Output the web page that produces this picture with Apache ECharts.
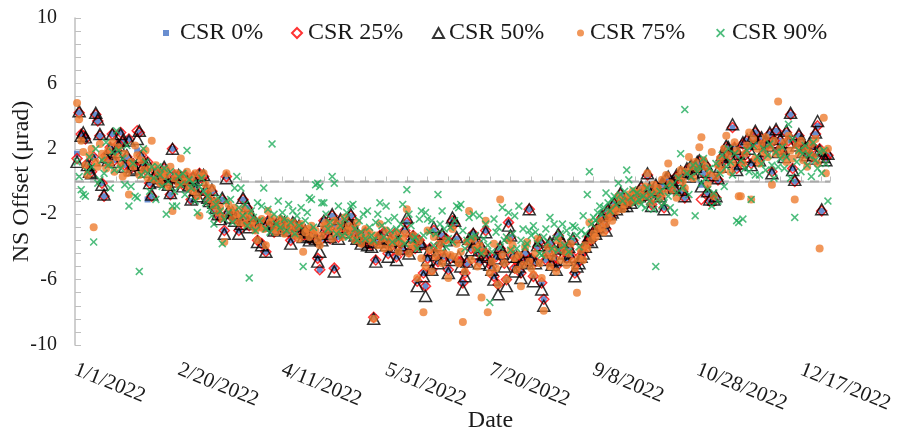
<!DOCTYPE html>
<html><head><meta charset="utf-8">
<script src="https://cdn.jsdelivr.net/npm/echarts@6/dist/echarts.min.js"></script>
<style>html,body{margin:0;padding:0;background:#fff}#c{width:899px;height:432px}</style>
</head><body><div id="c"></div>
<script>
// x value = day number counted from 1/1/2022 (day 0); first sample is day 1
const startDay = 1;
const seriesNames = ['CSR 0%', 'CSR 25%', 'CSR 50%', 'CSR 75%', 'CSR 90%'];
const yMin = -10, yMax = 10, yStep = 4;
const xMin = 0, xMax = 364, xStep = 50;
const refLevel = 0; // dashed reference line

const csr0 = [
1.7,4.2,2.9,2.8,2.6,1.1,0.7,0.6,1.5,4.1,
3.7,2.8,-0.1,-0.9,1.6,1.2,2.1,2.9,1.3,1.9,
2.3,3.0,2.4,1.0,1.5,2.6,0.8,1.1,0.9,1.9,
3.0,1.6,1.1,0.7,-1.1,-0.1,-0.9,0.2,0.6,0.1,
0.3,0.5,0.8,0.2,-0.1,-0.8,2.0,0.4,0.1,0.3,
0.3,-0.2,0.4,0.0,-0.3,-1.2,0.3,-0.4,-0.8,0.5,
0.2,0.3,-0.6,-1.1,-1.3,-0.6,-1.3,-1.7,-2.1,-2.2,
-1.1,-3.0,0.3,-1.9,-2.1,-2.0,-2.3,-2.1,-3.0,-2.5,
-1.1,-2.3,-1.6,-2.7,-2.2,-2.4,-2.7,-3.6,-2.5,-3.8,
-2.7,-4.3,-2.4,-2.8,-2.5,-3.1,-2.7,-2.8,-2.5,-2.6,
-2.6,-2.7,-3.1,-3.6,-2.6,-2.7,-2.8,-2.8,-3.2,-3.3,
-3.1,-3.2,-3.5,-3.2,-3.3,-3.6,-4.7,-5.4,-3.5,-2.4,
-2.9,-3.1,-3.5,-2.1,-5.3,-2.7,-3.4,-2.4,-2.8,-2.9,
-3.0,-2.6,-2.1,-2.8,-3.2,-3.6,-3.3,-3.7,-3.7,-3.1,
-3.8,-3.8,-3.9,-8.3,-4.8,-3.6,-3.3,-3.8,-3.1,-3.8,
-4.4,-3.7,-3.9,-3.3,-4.6,-3.7,-3.8,-4.2,-3.0,-2.5,
-4.3,-3.5,-3.3,-4.1,-6.1,-3.6,-3.9,-5.6,-6.4,-4.7,
-4.1,-5.4,-3.0,-4.4,-4.9,-3.8,-3.3,-4.6,-3.5,-5.4,
-4.7,-2.4,-2.6,-3.5,-4.9,-4.9,-6.2,-5.6,-5.0,-3.6,
-4.1,-3.2,-3.6,-4.3,-4.9,-4.1,-4.4,-3.0,-4.5,-4.9,
-5.2,-5.8,-4.6,-6.3,-4.1,-4.4,-5.0,-6.0,-2.5,-3.4,
-4.5,-5.3,-4.7,-5.0,-5.6,-4.8,-4.4,-4.9,-1.7,-4.7,
-5.8,-4.9,-4.0,-3.7,-6.2,-7.2,-4.8,-4.3,-3.8,-5.0,
-4.7,-5.2,-3.3,-4.2,-3.8,-4.3,-4.7,-4.1,-4.5,-3.6,
-5.6,-5.0,-4.9,-4.5,-4.3,-3.9,-3.7,-3.4,-3.6,-3.1,
-3.1,-2.9,-2.7,-2.2,-2.4,-2.9,-1.8,-2.1,-2.0,-1.4,
-1.6,-1.5,-0.8,-1.4,-1.3,-1.4,-1.2,-1.2,-1.0,-1.1,
-0.9,-0.8,-0.4,-0.7,-0.9,0.4,-0.5,-1.4,-0.7,-0.3,
-0.6,-1.0,-0.2,-1.6,0.1,0.2,-0.4,-0.1,-0.5,0.3,
0.2,0.5,-0.6,-1.0,0.7,0.4,0.9,0.6,0.8,1.1,
1.2,-0.2,0.5,1.0,-0.7,-1.2,0.3,-1.2,-1.0,0.1,
1.0,1.5,1.3,2.1,2.0,1.6,3.3,2.1,0.8,1.6,
1.2,2.3,1.6,2.5,2.1,1.1,2.7,3.0,2.4,1.4,
2.6,2.0,2.4,2.3,2.9,0.6,2.5,3.1,1.9,2.5,
2.1,1.6,3.0,2.5,4.1,0.8,0.0,2.3,2.8,2.4,
1.9,2.0,1.7,2.2,1.5,2.1,2.9,3.4,2.0,-1.8,
1.6,1.4,1.6];

const csr25 = [
1.4,4.2,2.9,2.8,2.6,1.1,0.7,0.6,1.5,4.1,
3.7,2.8,-0.1,-0.9,1.6,1.2,2.1,2.9,1.3,1.9,
2.3,3.0,2.4,1.0,1.5,2.6,0.8,1.1,0.9,3.1,
3.0,1.6,1.1,0.7,1.2,-0.1,-0.9,0.2,0.6,0.1,
0.3,0.5,0.8,0.2,-0.1,-0.8,2.0,0.4,0.1,0.3,
0.3,-0.2,0.4,0.0,-0.3,-1.1,0.3,-0.4,-0.8,0.5,
0.2,0.3,-0.6,-1.1,-1.3,-0.6,-1.3,-1.7,-2.1,-2.2,
-1.1,-3.0,0.3,-1.9,-2.1,-2.0,-2.3,-2.1,-3.0,-2.5,
-1.1,-2.3,-1.6,-2.7,-2.2,-2.4,-2.7,-3.6,-2.5,-3.8,
-2.7,-4.3,-2.4,-2.8,-2.5,-3.1,-2.7,-2.8,-2.5,-2.6,
-2.6,-2.7,-3.1,-3.6,-2.6,-2.7,-2.8,-2.8,-3.2,-3.3,
-3.1,-3.2,-3.5,-3.2,-3.3,-3.6,-4.7,-5.4,-3.5,-2.4,
-2.9,-3.1,-3.5,-2.1,-5.3,-2.7,-3.4,-2.4,-2.8,-2.9,
-3.0,-2.6,-2.1,-2.8,-3.2,-3.6,-3.3,-3.7,-3.7,-3.1,
-3.8,-3.8,-3.9,-8.3,-4.8,-3.6,-3.3,-3.8,-3.1,-3.8,
-4.4,-3.7,-3.9,-3.2,-4.6,-3.7,-3.8,-4.2,-3.0,-2.5,
-4.3,-3.5,-3.3,-4.1,-6.1,-3.6,-3.9,-5.6,-6.4,-4.7,
-4.1,-5.4,-3.0,-4.4,-4.9,-3.8,-3.3,-4.6,-3.5,-5.4,
-4.7,-2.4,-2.6,-3.5,-4.9,-4.9,-6.2,-5.6,-5.0,-3.6,
-4.1,-3.2,-3.6,-4.3,-4.9,-4.1,-4.4,-3.0,-4.5,-4.9,
-5.2,-5.8,-4.6,-6.3,-4.1,-4.4,-5.0,-6.0,-2.5,-3.4,
-4.5,-5.3,-4.7,-5.0,-5.6,-4.8,-4.4,-4.9,-1.7,-4.7,
-5.8,-4.9,-4.0,-3.7,-6.2,-7.2,-4.8,-4.3,-3.8,-5.0,
-4.7,-5.2,-3.3,-4.2,-3.8,-4.3,-4.7,-4.1,-4.5,-3.6,
-5.6,-5.0,-4.9,-4.5,-4.3,-3.9,-3.7,-3.4,-3.6,-3.1,
-3.1,-2.9,-2.7,-2.2,-2.4,-2.9,-1.8,-2.1,-2.0,-1.4,
-1.6,-1.5,-0.8,-1.4,-1.3,-1.4,-1.2,-1.2,-1.0,-1.1,
-0.9,-0.8,-0.4,-0.7,-0.9,0.4,-0.5,-1.4,-0.7,-0.3,
-0.6,-1.0,-0.2,-1.6,0.1,0.2,-0.4,-0.1,-0.5,0.3,
0.2,0.5,-0.6,-1.0,0.7,0.4,0.9,0.6,0.8,1.1,
1.2,-1.1,0.5,1.0,-0.7,-1.2,0.3,-1.2,-1.0,0.1,
1.0,1.5,1.3,2.1,2.0,1.6,3.3,2.1,0.8,1.6,
1.2,2.3,1.6,2.5,2.1,1.1,2.7,3.0,2.4,1.4,
2.6,2.0,2.4,2.3,2.9,0.6,2.5,3.1,1.9,2.5,
2.1,1.6,3.0,2.5,4.1,0.8,0.0,2.3,2.8,2.4,
1.9,2.0,1.7,2.2,1.5,2.1,2.9,3.4,2.0,-1.8,
1.6,1.4,1.6];

const csr50 = [
1.2,4.3,2.8,3.0,2.7,1.0,0.6,0.5,1.3,4.2,
3.8,2.9,-0.2,-0.8,1.5,1.3,2.0,2.9,1.2,1.8,
2.2,2.9,2.5,0.9,1.6,2.5,0.7,1.0,0.8,2.6,
3.1,1.5,1.0,0.6,1.1,-0.1,-0.8,0.3,0.5,0.0,
0.2,0.4,0.9,0.1,-0.2,-0.7,2.0,0.3,0.0,0.4,
0.2,-0.3,0.3,0.1,-0.2,-1.1,0.2,-0.5,-0.9,0.4,
0.1,0.4,-0.5,-1.0,-1.2,-0.5,-1.3,-1.6,-2.0,-2.3,
-1.0,-3.2,0.2,-1.8,-2.2,-1.9,-2.4,-2.0,-3.2,-2.6,
-1.0,-2.2,-1.5,-2.8,-2.1,-2.5,-2.6,-3.7,-2.6,-3.9,
-2.6,-4.3,-2.5,-2.7,-2.6,-3.0,-2.6,-2.9,-2.4,-2.7,
-2.5,-2.8,-3.0,-3.8,-2.5,-2.6,-2.9,-2.7,-3.1,-3.4,
-3.0,-3.3,-3.6,-3.1,-3.4,-3.5,-4.9,-4.3,-3.6,-2.4,
-2.8,-3.2,-3.4,-2.0,-5.5,-2.6,-3.5,-2.3,-2.9,-2.8,
-3.1,-2.5,-2.0,-2.7,-3.3,-3.5,-3.4,-3.8,-3.6,-3.2,
-3.9,-3.7,-4.0,-8.4,-4.9,-3.5,-3.4,-3.7,-3.2,-3.9,
-4.6,-3.6,-4.0,-3.3,-4.8,-3.6,-3.9,-4.1,-3.0,-2.2,
-4.4,-3.6,-3.4,-4.0,-6.4,-3.7,-3.8,-5.8,-7.0,-4.8,
-4.2,-5.4,-2.8,-4.5,-5.0,-3.9,-3.2,-4.7,-3.6,-5.6,
-4.8,-2.2,-2.4,-3.4,-4.6,-5.2,-6.6,-5.8,-4.9,-3.5,
-4.2,-3.2,-3.7,-4.4,-5.0,-4.0,-4.5,-3.1,-4.6,-5.1,
-5.4,-6.0,-4.7,-6.9,-4.0,-4.4,-5.2,-6.4,-2.7,-3.3,
-4.6,-5.5,-4.6,-5.2,-5.9,-4.9,-4.3,-5.0,-1.7,-4.8,
-6.1,-5.0,-3.9,-3.6,-6.6,-7.6,-4.8,-4.2,-3.7,-5.1,
-4.8,-5.4,-3.2,-4.1,-3.7,-4.4,-4.8,-4.0,-4.6,-3.5,
-5.8,-5.2,-5.0,-4.6,-4.4,-4.0,-3.6,-3.3,-3.7,-3.0,
-3.2,-2.8,-2.6,-2.1,-2.5,-3.0,-1.7,-2.0,-1.9,-1.3,
-1.7,-1.4,-0.7,-1.5,-1.2,-1.5,-1.1,-1.3,-0.9,-1.0,
-0.8,-0.9,-0.3,-0.6,-0.8,0.5,-0.4,-1.5,-0.6,-0.2,
-0.5,-0.9,-0.1,-1.7,0.2,0.3,-0.3,0.0,-0.4,0.4,
0.1,0.6,-0.5,-0.9,0.8,0.3,1.0,0.5,0.9,1.2,
1.3,-0.3,0.6,1.1,-0.6,-1.1,0.4,-1.1,-0.9,0.2,
0.9,1.6,1.2,2.2,2.1,1.5,3.5,2.0,0.7,1.7,
1.1,2.4,1.5,2.6,2.0,1.0,2.8,3.1,2.3,1.3,
2.7,1.9,2.5,2.2,3.0,0.5,2.4,3.2,1.8,2.6,
2.0,1.5,3.1,2.4,4.2,0.7,0.1,2.2,2.9,2.5,
1.8,2.1,1.6,2.3,1.4,2.0,3.0,3.7,1.9,-1.7,
1.5,1.3,1.7];

const csr75 = [
4.8,3.8,2.5,1.8,1.0,0.4,1.6,2.0,-2.8,1.2,
0.9,2.3,1.7,1.4,0.8,1.9,1.1,2.4,0.6,1.5,
2.1,1.0,0.3,1.7,0.5,-0.8,1.2,0.9,2.2,1.6,
0.4,1.3,0.7,1.9,0.2,0.8,2.5,0.1,1.0,0.6,
-0.1,0.3,0.7,0.4,-0.3,0.9,-1.8,0.2,0.5,-0.2,
1.4,0.3,0.0,0.6,-0.4,0.2,-0.6,0.5,-0.9,-2.1,
0.3,0.5,-0.2,-0.7,-1.1,-0.4,-1.5,-1.2,-1.9,-1.6,
-2.2,-3.7,0.5,-1.4,-1.8,-2.3,-1.6,-2.0,-2.5,-2.1,
-1.7,-2.6,-2.2,-1.9,-2.7,-2.4,-3.0,-3.6,-2.8,-2.3,
-2.9,-3.9,-1.8,-2.5,-2.2,-2.9,-3.1,-2.6,-2.3,-2.8,
-3.2,-2.4,-2.7,-3.0,-2.5,-3.3,-2.8,-3.5,-2.6,-4.3,
-3.1,-2.9,-3.4,-2.7,-3.2,-3.0,-3.6,-3.9,-3.3,-2.7,
-2.5,-3.0,-2.8,-3.5,-2.4,-3.1,-2.9,-2.6,-3.4,-2.2,
-3.0,-2.7,-3.3,-2.9,-3.6,-2.5,-3.2,-3.8,-3.4,-2.9,
-3.5,-3.1,-3.7,-8.4,-3.3,-3.9,-2.6,-3.5,-4.1,-3.0,
-3.6,-4.0,-3.4,-3.7,-3.1,-4.3,-3.8,-3.5,-3.2,-1.7,
-4.4,-3.9,-3.3,-4.0,-5.9,-3.6,-4.7,-8.0,-5.2,-3.0,
-4.2,-5.5,-3.4,-4.6,-4.2,-3.8,-5.0,-4.4,-3.6,-5.9,
-4.5,-2.9,-4.6,-3.8,-5.0,-4.3,-8.6,-5.5,-3.7,-1.8,
-4.8,-3.5,-4.1,-5.2,-3.9,-7.1,-4.3,-2.4,-8.0,-5.6,
-4.9,-3.8,-5.3,-6.3,-1.1,-4.5,-5.0,-6.0,-3.6,-4.2,
-3.9,-4.7,-5.4,-4.5,-6.4,-5.1,-4.0,-3.7,-4.9,-5.3,
-5.7,-4.4,-3.5,-5.0,-5.9,-7.9,-4.5,-4.0,-5.2,-4.6,
-4.2,-5.5,-3.6,-4.8,-3.9,-4.3,-5.1,-4.4,-3.8,-4.9,
-5.3,-6.8,-4.7,-4.2,-4.8,-3.9,-4.1,-2.5,-3.6,-3.2,
-3.4,-2.9,-2.4,-2.8,-3.1,-2.6,-2.2,-1.9,-2.4,-1.6,
-1.8,-0.9,-1.2,-1.7,-1.4,-1.0,-0.8,-1.3,-0.6,-1.1,
-0.7,-1.2,-0.5,-0.9,-0.3,0.5,-0.8,-1.3,-0.2,-0.6,
-0.4,-1.0,0.1,-0.7,0.4,1.1,-0.1,-0.5,-2.5,-1.0,
0.3,0.7,0.0,-0.4,0.6,1.5,0.9,0.2,1.2,0.8,
2.1,2.7,1.3,0.9,-0.2,0.5,1.8,-0.9,0.3,1.0,
1.4,0.7,2.0,2.8,1.6,0.6,1.1,2.4,1.9,-0.9,
-0.9,1.1,1.7,2.2,3.0,-1.1,2.6,1.4,2.0,1.1,
2.3,1.8,2.7,1.5,2.1,-0.2,2.5,1.7,4.9,2.0,
1.6,2.4,1.2,2.8,1.9,1.4,-1.1,2.2,1.7,2.5,
1.3,2.0,0.9,1.8,2.3,1.5,2.6,1.1,-4.1,1.9,
3.9,0.5,2.0];

const csr90 = [
1.2,0.3,-0.5,-0.8,-0.9,0.6,1.5,0.9,-3.7,2.0,
-0.1,0.1,1.3,0.5,2.4,1.0,-0.4,1.8,0.7,3.1,
1.9,0.8,1.4,-0.2,2.2,-1.5,-0.3,1.1,-0.9,-1.0,
-5.5,0.4,2.0,1.2,0.5,-0.6,0.9,0.2,-1.1,0.9,
0.4,-0.3,0.8,-2.0,0.0,0.6,-1.5,-0.6,-1.5,0.3,
-0.2,0.5,-0.8,1.9,0.1,-0.4,-0.1,-1.2,-1.9,-0.3,
0.2,-0.6,-1.3,-0.9,-1.7,-2.1,-2.6,-1.4,-1.0,-1.8,
-3.8,-2.3,-1.2,-1.9,-1.1,-2.5,-0.4,0.3,-1.6,-0.4,
-2.1,-1.4,-2.7,-5.9,-1.8,-2.2,-3.0,-1.3,-2.4,-1.5,
-0.4,-2.9,-1.7,-3.1,2.3,-2.0,-2.6,-1.2,-2.8,-1.9,
-2.3,-3.0,-1.4,-2.5,-1.8,-3.2,-2.1,-2.7,-1.6,-5.2,
-2.4,-1.9,-1.0,-1.1,-2.8,-0.2,-0.1,-0.3,-1.3,-1.3,
-2.0,-2.9,-2.5,0.3,-0.1,-3.2,-1.5,-2.7,-3.3,-2.3,
-1.9,-3.4,-1.5,-1.4,-2.9,-3.6,-2.4,-3.1,-2.0,-3.5,
-1.8,-2.8,-3.3,-3.6,-2.5,-2.0,-1.3,-2.7,-3.4,-1.5,
-2.4,-3.0,-3.7,-2.2,-2.9,-3.5,-2.6,-1.4,-3.8,-0.5,
-2.0,-2.7,-3.6,-3.4,-4.1,-2.3,-1.8,-3.3,-1.9,-2.3,
-3.1,-2.4,-3.9,-3.2,-0.8,-2.6,-1.8,-2.9,-4.0,-3.5,
-2.8,-3.7,-2.4,-1.5,-1.6,-1.4,-3.0,-4.1,-3.6,-2.2,
-3.4,-2.0,-3.3,-4.2,-2.1,-4.4,-3.5,-2.6,-3.9,-7.4,
-4.3,-2.3,-3.1,-2.8,-4.0,-1.6,-3.6,-3.4,-1.9,-4.2,
-3.2,-2.1,-4.1,-1.5,-3.6,-2.9,-4.0,-3.8,-3.0,-3.3,
-2.7,-3.1,-3.8,-4.4,-4.5,-3.4,-2.9,-3.7,-2.2,-4.1,
-2.6,-3.5,-4.2,-3.2,-2.6,-3.9,-3.0,-4.3,-3.4,-2.7,
-2.8,-3.3,-4.0,-3.0,-2.1,-3.2,-0.8,0.6,-2.6,-2.2,
-2.4,-1.9,-1.5,-2.0,-1.6,-0.7,-1.3,-1.8,-1.1,-0.9,
-1.4,-0.1,-0.8,-1.2,-0.6,0.7,0.1,-1.0,-0.5,-1.3,
-0.7,-1.1,-1.4,-0.9,-1.6,-0.4,-1.2,-0.8,-1.7,-5.2,
-1.1,-0.6,-1.5,-1.3,-0.3,-0.9,-1.6,-0.2,-1.9,-0.7,
0.2,1.7,-0.4,4.4,0.5,-0.8,0.3,1.0,-2.1,0.6,
0.9,-0.1,1.4,0.2,-0.5,0.8,-1.5,-0.7,1.1,-1.2,
0.5,1.6,-0.3,0.9,2.0,1.2,0.4,1.7,-2.4,-2.5,
1.3,-2.3,0.8,1.9,0.6,-1.1,2.2,0.4,1.5,0.4,
1.1,2.0,0.7,1.6,2.3,1.0,0.2,1.8,0.9,1.4,
2.1,0.8,1.5,3.5,0.2,2.6,-2.2,1.2,1.9,0.6,
1.7,2.2,1.0,1.6,0.3,2.4,1.3,0.8,1.8,0.5,
1.9,1.1,-1.2];

const seriesValues = [csr0, csr25, csr50, csr75, csr90];

function dayLabel(d) {
  const dt = new Date(Date.UTC(2022, 0, 1) + Math.round(d) * 86400000);
  return (dt.getUTCMonth() + 1) + '/' + dt.getUTCDate() + '/' + dt.getUTCFullYear();
}
const toPts = arr => arr.map((v, i) => [startDay + i, v]);

const FONT = 'Liberation Serif';
const TXT = '#1a1a1a';
const AXC = '#bfbfbf';
const xPath = 'path://M1.4,0L5,3.6L8.6,0L10,1.4L6.4,5L10,8.6L8.6,10L5,6.4L1.4,10L0,8.6L3.6,5L0,1.4Z';

const styles = [
  { symbol: 'rect', symbolSize: 6, itemStyle: { color: '#4472C4' } },
  { symbol: 'diamond', symbolSize: 10, itemStyle: { color: 'rgba(0,0,0,0)', borderColor: '#ff0000', borderWidth: 1.5 } },
  { symbol: 'triangle', symbolSize: [12, 11], itemStyle: { color: 'rgba(0,0,0,0)', borderColor: '#000000', borderWidth: 1.5 } },
  { symbol: 'circle', symbolSize: 8, itemStyle: { color: '#ED7D31' } },
  { symbol: xPath, symbolSize: 8, itemStyle: { color: '#22AD5C' } }
];

const legendPos = [
  { left: 163, w: 6, h: 6, pad: 6 },
  { left: 291, w: 10, h: 10, pad: 1 },
  { left: 432, w: 11, h: 10, pad: 0 },
  { left: 577, w: 7, h: 7, pad: 1 },
  { left: 716, w: 9, h: 9, pad: 2 }
];

const series = [{
  name: 'ref', type: 'line', data: [[xMin, refLevel], [xMax, refLevel]],
  symbol: 'none', silent: true, z: 1,
  lineStyle: { color: '#a9a9a9', type: [9, 6], width: 2 }
}].concat(seriesNames.map((name, k) => Object.assign({
  name, type: 'scatter', data: toPts(seriesValues[k]), z: 2 + k,
  emphasis: { disabled: true }
}, styles[k])));

const chart = echarts.init(document.getElementById('c'), null, { renderer: 'canvas' });
chart.setOption({
  animation: false,
  backgroundColor: '#ffffff',
  grid: { left: 75, right: 69, top: 18, bottom: 87, containLabel: false, outerBoundsMode: 'none' },
  legend: seriesNames.map((name, k) => ({
    data: [name], left: legendPos[k].left, top: 21, padding: 0,
    itemWidth: legendPos[k].w, itemHeight: legendPos[k].h, selectedMode: false,
    textStyle: { fontFamily: FONT, fontSize: 24, color: TXT, padding: [0, 0, 0, legendPos[k].pad] }
  })),
  xAxis: {
    type: 'value', min: xMin, max: xMax, interval: xStep,
    axisLine: { lineStyle: { color: AXC, width: 1.5 } },
    axisTick: { inside: true, length: 5, lineStyle: { color: AXC } },
    minorTick: { show: true, splitNumber: 5, length: 5, lineStyle: { color: AXC } },
    splitLine: { show: false },
    axisLabel: { rotate: -22, margin: 24, fontFamily: FONT, fontSize: 21, color: TXT, formatter: dayLabel, showMaxLabel: false },
    name: 'Date', nameLocation: 'middle', nameGap: 64, nameMoveOverlap: false,
    nameTextStyle: { fontFamily: FONT, fontSize: 24, color: TXT, padding: [0, 0, 0, 76] }
  },
  yAxis: {
    type: 'value', min: yMin, max: yMax, interval: yStep,
    axisLine: { show: true, lineStyle: { color: AXC, width: 1.5 } },
    axisTick: { show: true, inside: true, length: 6, lineStyle: { color: AXC } },
    minorTick: { show: true, splitNumber: 5, length: 6, lineStyle: { color: AXC } },
    splitLine: { show: false },
    axisLabel: { margin: 18, fontFamily: FONT, fontSize: 20, color: TXT },
    name: 'NS Offset (μrad)', nameLocation: 'middle', nameGap: 41, nameMoveOverlap: false,
    nameTextStyle: { fontFamily: FONT, fontSize: 24, color: TXT }
  },
  series
});
</script>
</body></html>
